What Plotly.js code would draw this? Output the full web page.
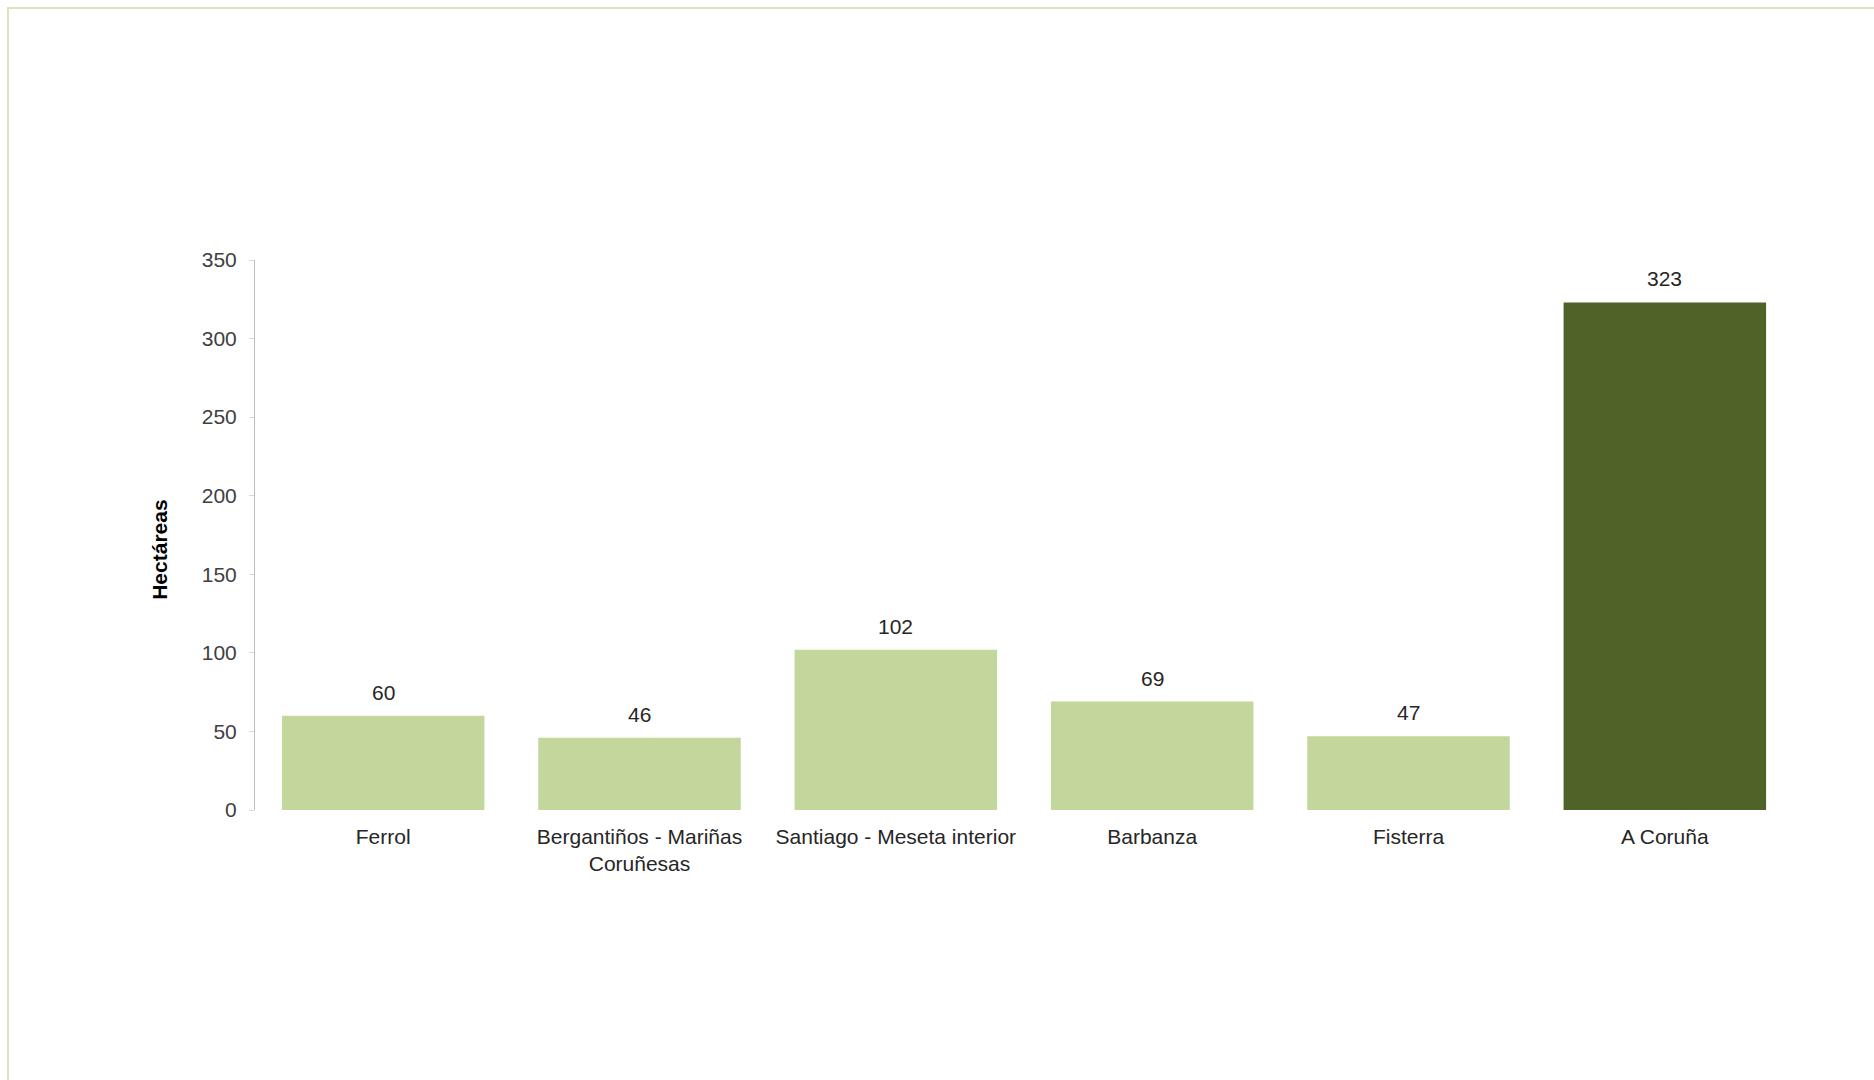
<!DOCTYPE html>
<html>
<head>
<meta charset="utf-8">
<script src="https://cdn.plot.ly/plotly-3.0.1.min.js"></script>
<style>
  html, body { margin: 0; padding: 0; background: #ffffff; overflow: hidden; }
  #chart { position: absolute; left: 0; top: 0; width: 1874px; height: 1080px; }
  #frame { position: absolute; left: 7px; top: 7px; width: 1900px; height: 1100px;
           border-left: 2px solid #D9E5C1; border-top: 2px solid #D9E5C1; pointer-events: none; }
</style>
</head>
<body>
<div id="chart"></div>
<div id="frame"></div>
<script>
// Data
const categories = ["Ferrol", "Bergantiños - Mariñas<br>Coruñesas", "Santiago - Meseta interior", "Barbanza", "Fisterra", "A Coruña"];
const hectareas = [60, 46, 102, 69, 47, 323];
const barColors = ["#C3D69B", "#C3D69B", "#C3D69B", "#C3D69B", "#C3D69B", "#4F6228"];
const yTickVals = [0, 50, 100, 150, 200, 250, 300, 350];
const yTitle = "Hectáreas";

const fontFamily = "Liberation Sans, Arial, sans-serif";

const trace = {
  type: "bar",
  x: categories,
  y: hectareas,
  marker: { color: barColors, line: { width: 0 } },
  width: 0.79,
  hoverinfo: "x+y"
};

const annotations = categories.map((c, i) => ({
  x: c,
  y: hectareas[i],
  xref: "x",
  yref: "y",
  text: String(hectareas[i]),
  showarrow: false,
  yanchor: "bottom",
  yshift: 10,
  font: { family: fontFamily, size: 21, color: "#262626" }
}));

// y-axis title placed as a rotated annotation (slightly below plot centre, as in the reference)
annotations.push({
  xref: "paper",
  yref: "paper",
  x: -0.0618,
  y: 0.473,
  xanchor: "center",
  yanchor: "middle",
  textangle: -90,
  showarrow: false,
  text: "<b>" + yTitle + "</b>",
  font: { family: fontFamily, size: 21, color: "#000000" }
});

const layout = {
  width: 1874,
  height: 1080,
  paper_bgcolor: "#ffffff",
  plot_bgcolor: "#ffffff",
  margin: { l: 255, r: 81, t: 260, b: 270 },
  showlegend: false,
  bargap: 0.21,
  font: { family: fontFamily, size: 21, color: "#262626" },
  xaxis: {
    type: "category",
    showline: false,
    showgrid: false,
    zeroline: false,
    ticks: "",
    tickfont: { family: fontFamily, size: 21, color: "#262626" },
    ticklabelstandoff: 12
  },
  yaxis: {
    range: [0, 350],
    tickvals: yTickVals,
    ticktext: yTickVals.map(String),
    showline: true,
    linecolor: "#BFBFBF",
    linewidth: 1,
    ticks: "outside",
    ticklen: 5,
    tickcolor: "#D9D9D9",
    ticklabelstandoff: 8,
    showgrid: false,
    zeroline: false,
    tickfont: { family: fontFamily, size: 21, color: "#404040" }
  },
  annotations: annotations
};

Plotly.newPlot("chart", [trace], layout, { displayModeBar: false, staticPlot: true });
</script>
</body>
</html>
